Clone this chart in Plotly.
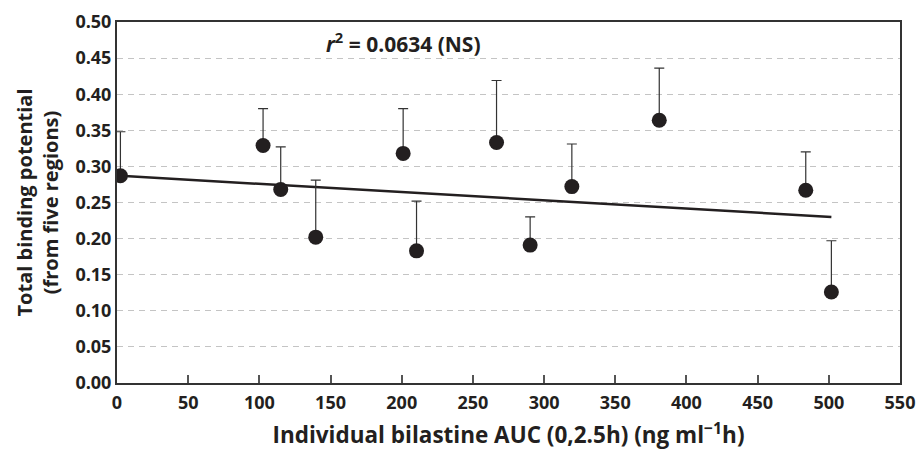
import plotly.graph_objects as go

auc = [2.4, 102.6, 115.0, 139.6, 201.0, 210.4, 266.6, 290.2, 319.5, 380.9, 483.8, 501.8]
bp = [0.287, 0.329, 0.268, 0.202, 0.318, 0.183, 0.333, 0.191, 0.272, 0.364, 0.267, 0.126]
bp_upper = [0.348, 0.380, 0.327, 0.281, 0.380, 0.252, 0.419, 0.230, 0.331, 0.436, 0.320, 0.197]
fit_x = [2.4, 501.8]
fit_y = [0.287, 0.230]
x_ticks = [0, 50, 100, 150, 200, 250, 300, 350, 400, 450, 500, 550]
y_ticks = [0.00, 0.05, 0.10, 0.15, 0.20, 0.25, 0.30, 0.35, 0.40, 0.45, 0.50]

err_plus = [u - v for u, v in zip(bp_upper, bp)]
FONT = "Open Sans"
DARK = "#231f20"

W, H = 919, 454
L, T, R, B = 117, 22, 19, 71

fig = go.Figure()
fig.add_trace(go.Scatter(
    x=fit_x, y=fit_y, mode="lines",
    line=dict(color=DARK, width=2.5), showlegend=False, hoverinfo="skip"))
fig.add_trace(go.Scatter(
    x=auc, y=bp, mode="markers",
    marker=dict(color=DARK, size=15),
    error_y=dict(type="data", symmetric=False, array=err_plus,
                 arrayminus=[0] * len(bp), color="#333333", thickness=1.2, width=5),
    showlegend=False))

fig.add_annotation(
    x=(324 - 117) / (900 - 117), y=(383 - 42) / (383 - 22),
    xref="paper", yref="paper", xanchor="left", yanchor="middle",
    text="<b><i>r</i><sup>2</sup> = 0.0634 (NS)</b>", showarrow=False,
    font=dict(family=FONT, size=21, color=DARK))

fig.update_layout(
    width=W, height=H,
    margin=dict(l=L, r=R, t=T, b=B, autoexpand=False),
    paper_bgcolor="white", plot_bgcolor="white",
    font=dict(family=FONT, color=DARK, size=18),
)
fig.update_xaxes(
    range=[0, 550], tickvals=x_ticks, ticktext=[f"<b>{v}</b>" for v in x_ticks],
    showgrid=False, zeroline=False, automargin=False,
    showline=True, linecolor="#333333", linewidth=2, mirror=True,
    ticks="inside", ticklen=8, tickcolor="#555555", tickwidth=1.5,
    ticklabelstandoff=2,
    tickfont=dict(family=FONT, size=18, color=DARK),
    title=dict(text="<b>Individual bilastine AUC (0,2.5h) (ng ml<sup>−1</sup>h)</b>",
               font=dict(family=FONT, size=22.5, color=DARK), standoff=15),
)
fig.update_yaxes(
    range=[0, 0.5], tickvals=y_ticks, ticktext=[f"<b>{v:.2f}</b>" for v in y_ticks],
    showgrid=True, gridcolor="#c4c4c4", griddash="6px,5px", gridwidth=1,
    zeroline=False, automargin=False,
    showline=True, linecolor="#333333", linewidth=2, mirror=True,
    ticks="",
    tickfont=dict(family=FONT, size=18, color=DARK),
    title=dict(text="<b>Total binding potential<br>(from five regions)</b>",
               font=dict(family=FONT, size=20, color=DARK), standoff=11),
)

fig.write_html("out.html", config={"displayModeBar": False},
               post_script="document.body.style.margin='0';document.body.style.overflow='hidden';")
